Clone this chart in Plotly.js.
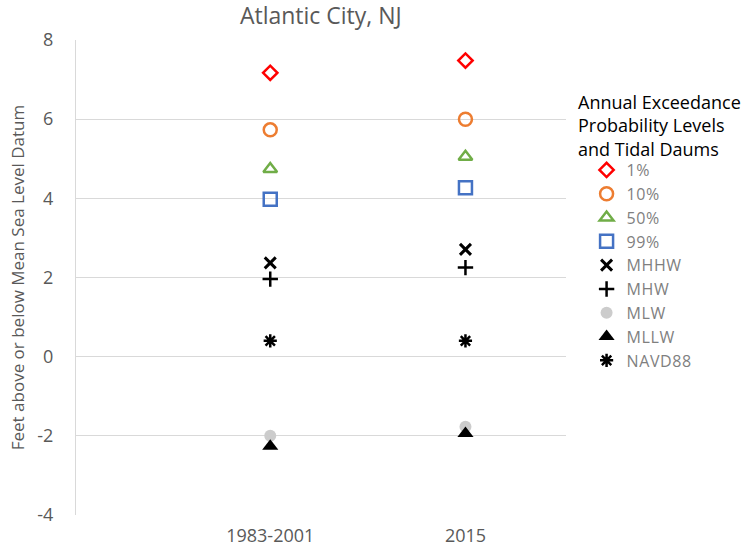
<!DOCTYPE html>
<html>
<head>
<meta charset="utf-8">
<script src="https://cdn.plot.ly/plotly-3.0.1.min.js"></script>
<style>html,body{margin:0;padding:0;background:#fff;}#chart{width:747px;height:547px;}
.legendtext{letter-spacing:0.6px;}</style>
</head>
<body>
<div id="chart"></div>
<script>
const categories = ["1983-2001", "2015"];
const seriesNames = ["1%", "10%", "50%", "99%", "MHHW", "MHW", "MLW", "MLLW", "NAVD88"];
const v1pct   = [7.17, 7.48];
const v10pct  = [5.73, 6.00];
const v50pct  = [4.74, 5.05];
const v99pct  = [3.98, 4.27];
const vMHHW   = [2.37, 2.71];
const vMHW    = [1.96, 2.25];
const vMLW    = [-2.00, -1.77];
const vMLLW   = [-2.26, -1.94];
const vNAVD88 = [0.40, 0.40];
const yTicks = [-4, -2, 0, 2, 4, 6, 8];
const yTickLabels = ["-4", "-2", "0", "2", "4", "6", "8"];

const seriesValues = [v1pct, v10pct, v50pct, v99pct, vMHHW, vMHW, vMLW, vMLLW, vNAVD88];
const styles = [
  {symbol: "diamond-open", color: "#FF0000", size: 11, lw: 2.5},
  {symbol: "circle-open", color: "#ED7D31", size: 13, lw: 2.5},
  {symbol: "triangle-up-open", color: "#70AD47", size: 12, lw: 2.5},
  {symbol: "square-open", color: "#4472C4", size: 13, lw: 2.5},
  {symbol: "x-thin-open", color: "#000000", size: 11, lw: 3},
  {symbol: "cross-thin-open", color: "#000000", size: 11, lw: 2.5},
  {symbol: "circle", color: "#CCCCCC", size: 12, lw: 0},
  {symbol: "triangle-up", color: "#000000", size: 14, lw: 0},
  {symbol: "asterisk-open", color: "#000000", size: 11, lw: 2.5}
];

const xIdx = categories.map((c, i) => i);
const traces = seriesNames.map((name, i) => ({
  type: "scatter",
  mode: "markers",
  name: name,
  x: xIdx,
  y: seriesValues[i],
  marker: {
    symbol: styles[i].symbol,
    size: styles[i].size,
    color: styles[i].color,
    line: {color: styles[i].color, width: styles[i].lw}
  },
  cliponaxis: false,
  hoverinfo: "y"
}));

const font = '"Open Sans", "Liberation Sans", sans-serif';
const layout = {
  width: 747, height: 547,
  margin: {l: 76, r: 181, t: 40, b: 32, pad: 0},
  paper_bgcolor: "#fff", plot_bgcolor: "#fff",
  font: {family: font, color: "#595959"},
  title: {text: "Atlantic City, NJ", font: {size: 23, color: "#595959", family: font},
          x: 0.4295, xanchor: "center", y: 0.97, yanchor: "middle"},
  showlegend: true,
  legend: {
    x: 1.042, xanchor: "left", y: 0.762, yanchor: "top",
    font: {size: 16, color: "#7F7F7F", family: font},
    itemwidth: 30, bgcolor: "rgba(0,0,0,0)"
  },
  xaxis: {
    range: [-0.995, 1.515],
    tickmode: "array", tickvals: xIdx, ticktext: categories,
    showgrid: false, zeroline: false, showline: false,
    ticks: "", ticklabelstandoff: 8, tickfont: {size: 18, color: "#595959"},
    fixedrange: true
  },
  yaxis: {
    range: [-4, 8],
    tickmode: "array", tickvals: yTicks, ticktext: yTickLabels,
    showgrid: true, gridcolor: "#D9D9D9", gridwidth: 1,
    zeroline: true, zerolinecolor: "#D9D9D9", zerolinewidth: 1,
    showline: true, linecolor: "#D9D9D9", linewidth: 1,
    ticks: "", ticklabelstandoff: 18,
    tickfont: {size: 18, color: "#595959"},
    title: {text: "Feet above or below Mean Sea Level Datum", font: {size: 17, color: "#595959"}, standoff: 8},
    fixedrange: true
  },
  annotations: [{
    xref: "paper", yref: "paper", x: 1.02, y: 0.821, xanchor: "left", yanchor: "middle",
    align: "left", showarrow: false,
    text: "Annual Exceedance<br>Probability Levels<br>and Tidal Daums",
    font: {size: 18, color: "#000000", family: font}
  }]
};
Plotly.newPlot("chart", traces, layout, {displayModeBar: false, staticPlot: true});
</script>
</body>
</html>
